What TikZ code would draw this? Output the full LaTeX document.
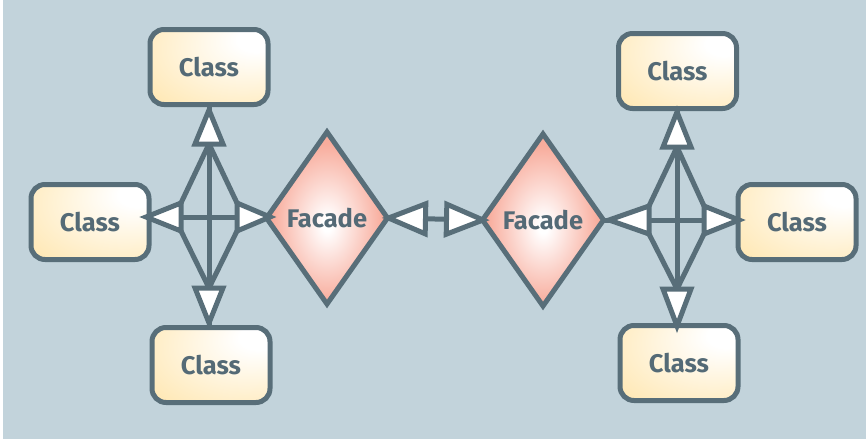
\documentclass[tikz,border=0pt]{standalone}
\usepackage{fontspec}
\setmainfont{Fira Sans}
\usetikzlibrary{shapes.geometric,calc}

\definecolor{bgc}{RGB}{194,211,219}
\definecolor{edge}{RGB}{88,110,121}
\definecolor{ink}{RGB}{84,106,118}
\definecolor{classY}{RGB}{255,224,155}
\definecolor{facadeC}{RGB}{248,172,156}

% fills: a white glow in the upper right of each class box, a white core in each facade
\pgfdeclareradialshading{classfill}{\pgfpoint{22bp}{20bp}}{color(0bp)=(white); color(8bp)=(white); color(60bp)=(classY); color(90bp)=(classY)}
\pgfdeclareradialshading{facadefill}{\pgfpoint{0bp}{-2bp}}{color(0bp)=(white); color(2bp)=(white); color(23bp)=(facadeC); color(70bp)=(facadeC)}

\tikzset{
  classbox/.style={draw=edge, line width=5pt, rounded corners=14pt,
    minimum width=118pt, minimum height=75pt, inner sep=0pt, outer sep=0pt,
    shading=classfill, text=ink, font=\bfseries\fontsize{25.5}{25.5}\selectfont},
  facade/.style={diamond, draw=edge, line width=5pt,
    minimum width=121pt, minimum height=172pt, inner sep=0pt, outer sep=0pt,
    shading=facadefill, text=ink, font=\bfseries\fontsize{25.5}{25.5}\selectfont},
  link/.style={draw=edge, line width=5pt, line join=miter},
  headtri/.style={draw=edge, fill=white, line width=5pt, line join=miter},
}

% open triangular head: point at #1, back centred at #2, half width #3
\newcommand\headat[3]{%
  \filldraw[headtri] (#1) -- ($(#2)!#3!90:(#1)$) -- ($(#2)!#3!-90:(#1)$) -- cycle;}

\begin{document}
\begin{tikzpicture}[x=1pt, y=-1pt]
  % page and backdrop
  \useasboundingbox (0,0) rectangle (866,439);
  \fill[white] (0,0) rectangle (866,439);
  \fill[bgc] (3,0) rectangle (866,439);

  % left group
  \node[classbox] (LT) at (209,67) {Class};
  \node[classbox] (LL) at (90,222) {Class};
  \node[classbox] (LB) at (211,365) {Class};
  \node[facade] (F1) at (327,218) {Facade};

  % right group
  \node[facade] (F2) at (543,220) {Facade};
  \node[classbox] (RT) at (677.5,71) {Class};
  \node[classbox] (RR) at (797,222) {Class};
  \node[classbox] (RB) at (679,363) {Class};

  % hub centres
  \coordinate (hL) at (209,217);
  \coordinate (hR) at (677,220);

  % heads of the left hub: points and backs
  \coordinate (uLt) at (209,110);  \coordinate (uLb) at (209,144);
  \coordinate (dLt) at (209,323);  \coordinate (dLb) at (209,288);
  \coordinate (wLt) at (146,217);  \coordinate (wLb) at (181,217);
  \coordinate (eLt) at (270,217);  \coordinate (eLb) at (237,217);

  % heads of the right hub
  \coordinate (uRt) at (677,112);  \coordinate (uRb) at (677,147);
  \coordinate (dRt) at (677,326);  \coordinate (dRb) at (677,289);
  \coordinate (wRt) at (609,220);  \coordinate (wRb) at (649,220);
  \coordinate (eRt) at (739,220);  \coordinate (eRb) at (704,220);

  % heads between the facades
  \coordinate (mAt) at ($(F1.east)!1pt!(F2.west)$);
  \coordinate (mAb) at ($(F1.east)!38pt!(F2.west)$);
  \coordinate (mBt) at ($(F2.west)!-0.5pt!(F1.east)$);
  \coordinate (mBb) at ($(F2.west)!36pt!(F1.east)$);

  % kite outlines joining the backs of the heads
  \draw[link] ($(wLb)+(0,-14)$) -- (uLb) -- ($(eLb)+(0,-14)$);
  \draw[link] ($(wLb)+(0,14)$) -- (dLb) -- ($(eLb)+(0,14)$);
  \draw[link] ($(wRb)+(0,-14)$) -- (uRb) -- ($(eRb)+(0,-14)$);
  \draw[link] ($(wRb)+(0,14)$) -- (dRb) -- ($(eRb)+(0,14)$);

  % connector shafts
  \draw[link] (LT.south -| hL) -- (LB.north -| hL);
  \draw[link] (LL.east |- hL) -- (F1.west |- hL);
  \draw[link] (F1.east) -- (F2.west);
  \draw[link] (RT.south -| hR) -- (RB.north -| hR);
  \draw[link] (F2.east |- hR) -- (RR.west |- hR);

  % open heads
  \headat{uLt}{uLb}{14pt}
  \headat{dLt}{dLb}{14pt}
  \headat{wLt}{wLb}{14pt}
  \headat{eLt}{eLb}{14pt}
  \headat{uRt}{uRb}{14pt}
  \headat{dRt}{dRb}{14pt}
  \headat{wRt}{wRb}{14pt}
  \headat{eRt}{eRb}{14pt}
  \headat{mAt}{mAb}{15pt}
  \headat{mBt}{mBb}{15pt}
\end{tikzpicture}
\end{document}
